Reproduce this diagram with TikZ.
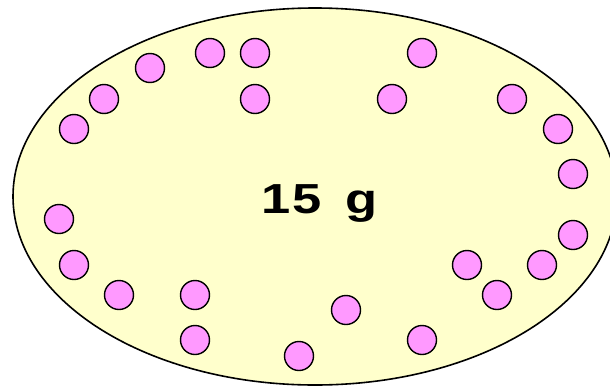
\documentclass[tikz,border=0pt]{standalone}
\usepackage{fontspec}
\newfontfamily\rotulo[FakeStretch=1.25]{Liberation Sans}
\definecolor{amarelo}{RGB}{255,255,204}
\definecolor{rosa}{RGB}{255,153,255}

\begin{document}
\begin{tikzpicture}[
  x=1pt, y=-1pt,
  prato/.style={draw=black, line width=1.6pt, fill=#1},
  prato/.default=amarelo,
  particula/.style={circle, draw=black, line width=1.4pt, fill=#1,
                    minimum size=29pt, inner sep=0pt},
  particula/.default=rosa,
  massa/.style={font=\rotulo\bfseries\fontsize{42}{48}\selectfont,
                anchor=base west, inner sep=0pt},
]
\useasboundingbox (0,0) rectangle (610,386);
% ---- Recipiente
\draw[prato] (315,196.5) ellipse [x radius=302, y radius=188.5];
% ---- Rotulo da massa
\node[massa] (m) at (261,213) {1\hspace{2pt}5\hspace{9pt} g};
% ---- Particulas
\foreach \px/\py [count=\i] in {74/129, 104/99, 150/68, 210/53, 255/53, 255/99,
    422/53, 392/99, 512/99, 558/129, 573/174,
    59/219, 74/265, 119/295, 195/295, 195/340, 299/356,
    573/235, 467/265, 542/265, 497/295, 346/310, 422/340}
  \node[particula] (p\i) at (\px,\py) {};
\end{tikzpicture}
\end{document}
